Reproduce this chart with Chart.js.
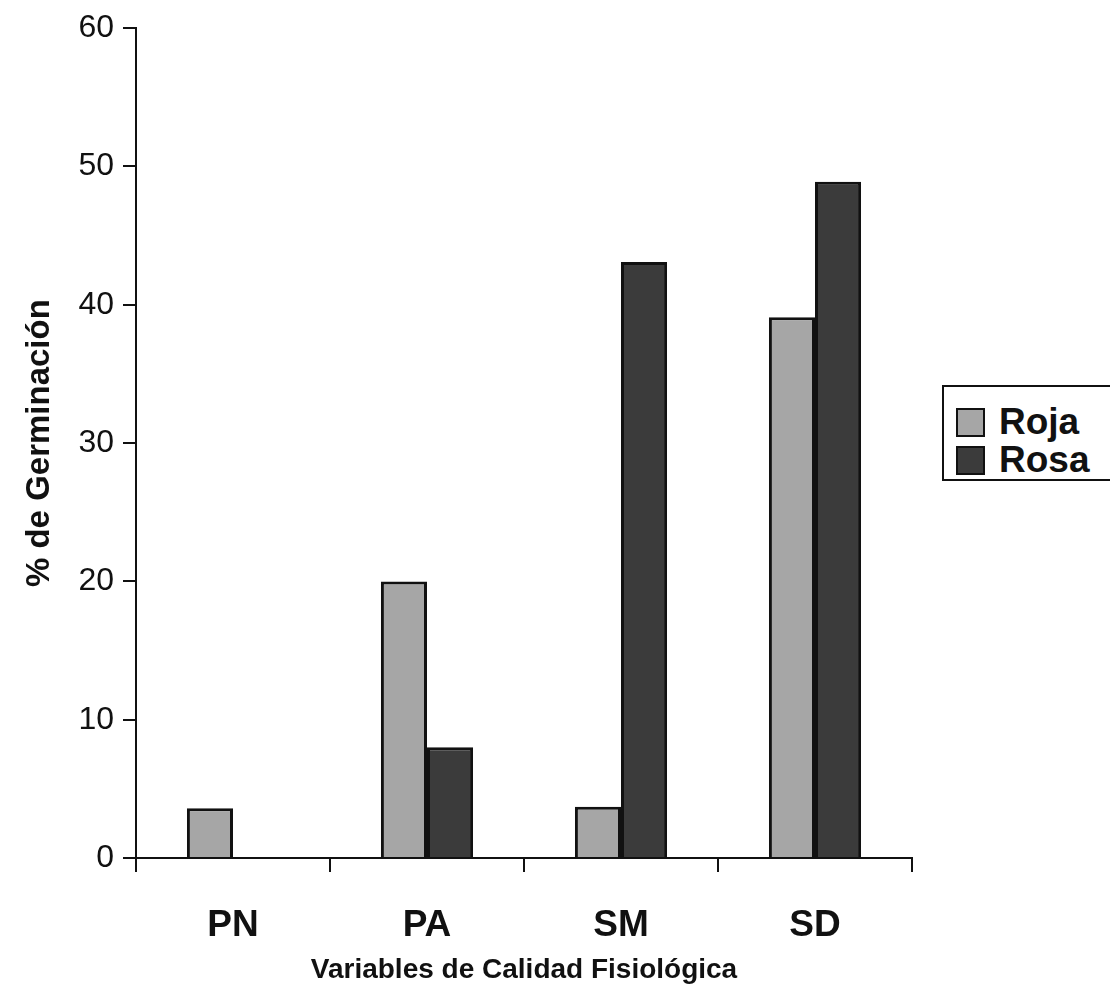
<!DOCTYPE html>
<html>
<head>
<meta charset="utf-8">
<script src="https://cdn.jsdelivr.net/npm/chart.js@4/dist/chart.umd.min.js"></script>
<style>
  html, body { margin: 0; padding: 0; background: #fff; overflow: hidden; }
  #wrap { position: relative; width: 1110px; height: 1007px; }
  #legend {
    position: absolute; left: 942px; top: 385px; width: 200px; height: 96px;
    border: 2px solid #111; box-sizing: border-box; background: #fff;
    font-family: "Liberation Sans", Arial, sans-serif; font-weight: bold; font-size: 37px; color: #111;
  }
  .row { position: absolute; left: 12px; display: flex; align-items: center; }
  .sw { width: 25px; height: 25px; border: 2.5px solid #111; margin-right: 14px; }
</style>
</head>
<body>
<div id="wrap">
  <canvas id="chart" width="1110" height="1007"></canvas>
  <div id="legend"></div>
</div>
<script>
const categories = ["PN", "PA", "SM", "SD"];
const roja = [3.6, 20, 3.7, 39.1];
const rosa = [0, 8, 43.1, 48.9];
const seriesNames = ["Roja", "Rosa"];
const seriesColors = ["#a6a6a6", "#3b3b3b"];
const yTicks = [0, 10, 20, 30, 40, 50, 60];

const FONT = "'Liberation Sans', Arial, sans-serif";

// legend as html
const legend = document.getElementById("legend");
seriesNames.forEach((name, i) => {
  const row = document.createElement("div");
  row.className = "row";
  row.style.top = (i === 0 ? 14 : 52) + "px";
  const sw = document.createElement("div");
  sw.className = "sw";
  sw.style.background = seriesColors[i];
  const txt = document.createElement("span");
  txt.textContent = name;
  row.appendChild(sw); row.appendChild(txt);
  legend.appendChild(row);
});

const ctx = document.getElementById("chart").getContext("2d");
new Chart(ctx, {
  type: "bar",
  data: {
    labels: categories,
    datasets: [
      { label: seriesNames[0], data: roja, backgroundColor: seriesColors[0], borderColor: "#111", borderWidth: 3 },
      { label: seriesNames[1], data: rosa, backgroundColor: seriesColors[1], borderColor: "#111", borderWidth: 3 },
    ],
  },
  options: {
    responsive: false, animation: false,
    categoryPercentage: 0.475, barPercentage: 1,
    layout: { padding: { left: 20, right: 198, top: 24, bottom: 20 } },
    scales: {
      x: {
        grid: { drawOnChartArea: false, drawTicks: true, tickLength: 14, color: "#111", lineWidth: 2 },
        border: { display: true, color: "#111", width: 2 },
        ticks: { color: "#111", padding: 32, font: { family: FONT, size: 37, weight: "bold" } },
        title: { display: true, text: "Variables de Calidad Fisiológica", color: "#111",
                 font: { family: FONT, size: 28, weight: "bold" }, padding: { top: 10, bottom: 0 } },
        afterFit: (s) => { s.height = 1007 - 858 - 20; },
      },
      y: {
        min: 0, max: 60,
        afterBuildTicks: (s) => { s.ticks = yTicks.map(v => ({ value: v })); },
        grid: { drawOnChartArea: false, drawTicks: true, tickLength: 13, color: "#111", lineWidth: 2 },
        border: { display: true, color: "#111", width: 2 },
        ticks: { color: "#111", padding: 9, font: { family: FONT, size: 32 } },
        title: { display: true, text: "% de Germinación", color: "#111",
                 font: { family: FONT, size: 33, weight: "bold" }, padding: { top: 0, bottom: 0 } },
        afterFit: (s) => { s.width = 136 - 20; },
      },
    },
    plugins: { legend: { display: false }, tooltip: { enabled: false } },
  },
});
</script>
</body>
</html>
